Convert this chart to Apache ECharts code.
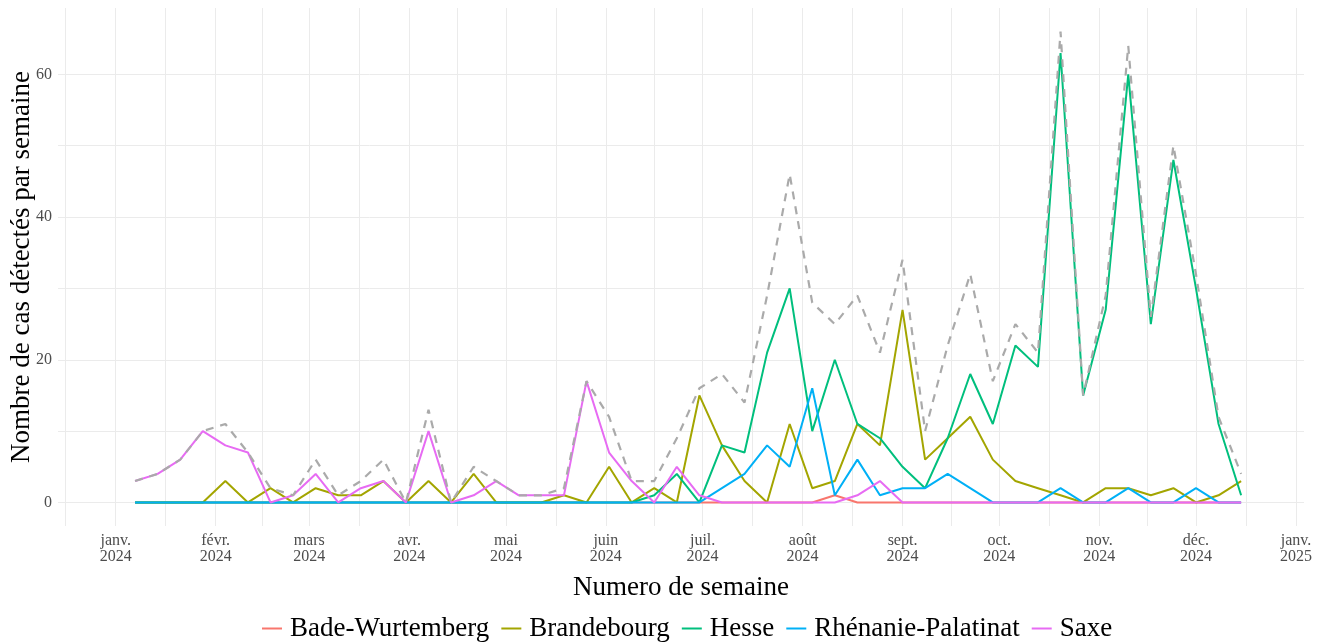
<!DOCTYPE html>
<html><head><meta charset="utf-8">
<script src="https://cdn.jsdelivr.net/npm/echarts@6/dist/echarts.min.js"></script>
<style>html,body{margin:0;padding:0;background:#fff}#c{width:1322px;height:643px}</style>
</head><body><div id="c"></div>
<script>
// Weekly dates (x values)
const weeks = ['2024-01-07','2024-01-14','2024-01-21','2024-01-28','2024-02-04','2024-02-11','2024-02-18','2024-02-25',
'2024-03-03','2024-03-10','2024-03-17','2024-03-24','2024-03-31','2024-04-07','2024-04-14','2024-04-21','2024-04-28',
'2024-05-05','2024-05-12','2024-05-19','2024-05-26','2024-06-02','2024-06-09','2024-06-16','2024-06-23','2024-06-30',
'2024-07-07','2024-07-14','2024-07-21','2024-07-28','2024-08-04','2024-08-11','2024-08-18','2024-08-25',
'2024-09-01','2024-09-08','2024-09-15','2024-09-22','2024-09-29','2024-10-06','2024-10-13','2024-10-20','2024-10-27',
'2024-11-03','2024-11-10','2024-11-17','2024-11-24','2024-12-01','2024-12-08','2024-12-15'];

const badeWurtemberg = [0,0,0,0,0,0,0,0,0,0, 0,0,0,0,0,0,0,0,0,0, 0,0,0,0,0,0,0,0,0,0, 0,1,0,0,0,0,0,0,0,0, 0,0,0,0,0,0,0,0,0,0];
const brandebourg   = [0,0,0,0,3,0,2,0,2,1, 1,3,0,3,0,4,0,0,0,1, 0,5,0,2,0,15,8,3,0,11, 2,3,11,8,27,6,9,12,6,3, 2,1,0,2,2,1,2,0,1,3];
const hesse         = [0,0,0,0,0,0,0,0,0,0, 0,0,0,0,0,0,0,0,0,0, 0,0,0,1,4,0,8,7,21,30, 10,20,11,9,5,2,9,18,11,22, 19,63,15,27,60,25,48,30,11,1];
const rhenanie      = [0,0,0,0,0,0,0,0,0,0, 0,0,0,0,0,0,0,0,0,0, 0,0,0,0,0,0,2,4,8,5, 16,1,6,1,2,2,4,2,0,0, 0,2,0,0,2,0,0,2,0,0];
const saxe          = [3,4,6,10,8,7,0,1,4,0, 2,3,0,10,0,1,3,1,1,1, 17,7,3,0,5,1,0,0,0,0, 0,0,1,3,0,0,0,0,0,0, 0,0,0,0,0,0,0,0,0,0];
const total         = [3,4,6,10,11,7,2,1,6,1, 3,6,0,13,0,5,3,1,1,2, 17,12,3,3,9,16,18,14,29,46, 28,25,29,21,34,10,22,32,17,25, 21,66,15,29,64,26,50,32,12,4];

const seriesNames = ['Bade-Wurtemberg','Brandebourg','Hesse','Rhénanie-Palatinat','Saxe'];
const seriesColors = ['#F8766D','#A3A500','#00BF7D','#00B0F6','#E76BF3'];

const yTickLabels = [0,20,40,60];
const yGridValues = [0,10,20,30,40,50,60];
const monthStarts = ['2023-12-01','2024-01-01','2024-02-01','2024-03-01','2024-04-01','2024-05-01','2024-06-01',
  '2024-07-01','2024-08-01','2024-09-01','2024-10-01','2024-11-01','2024-12-01','2025-01-01'];
const monthLabels = ['déc.','janv.','févr.','mars','avr.','mai','juin','juil.','août','sept.','oct.','nov.','déc.','janv.'];

const DAY = 86400000;
const t = s => Date.parse(s);
const xMin = t('2024-01-01') - 17.9 * DAY;
const xMax = t('2024-01-01') + 368.5 * DAY;

const majorTicks = monthStarts.map(t).filter(v => v >= xMin && v <= xMax);
const gridTicks = [];
const ms = monthStarts.map(t);
for (let i = 0; i < ms.length; i++) {
  if (ms[i] >= xMin && ms[i] <= xMax) gridTicks.push(ms[i]);
  if (i < ms.length - 1) { const m = (ms[i] + ms[i+1]) / 2; if (m >= xMin && m <= xMax) gridTicks.push(m); }
}
const labelMap = {};
ms.forEach((v, i) => { labelMap[v] = monthLabels[i] + '\n' + new Date(v).getUTCFullYear(); });

const toPts = arr => arr.map((v, i) => [t(weeks[i]), v]);
const font = 'Liberation Serif';

const series = [badeWurtemberg, brandebourg, hesse, rhenanie, saxe].map((arr, i) => ({
  name: seriesNames[i], type: 'line', data: toPts(arr), symbol: 'none', showSymbol: false,
  lineStyle: { color: seriesColors[i], width: 2 }, itemStyle: { color: seriesColors[i] },
  animation: false, z: 2 + i
}));
series.push({
  name: 'Total', type: 'line', data: toPts(total), symbol: 'none', showSymbol: false,
  lineStyle: { color: '#aaaaaa', width: 2.2, type: [8, 7] }, itemStyle: { color: '#aaaaaa' },
  animation: false, z: 10
});

const chart = echarts.init(document.getElementById('c'), null, { renderer: 'canvas' });
chart.setOption({
  backgroundColor: '#ffffff',
  animation: false,
  grid: { left: 58, right: 18, top: 8, bottom: 117, containLabel: false, outerBoundsMode: 'none' },
  legend: {
    data: seriesNames, top: 610, left: 257, itemWidth: 20, itemHeight: 14, itemGap: 12,
    icon: 'path://M0,6 L20,6 L20,8 L0,8 Z',
    textStyle: { fontFamily: font, fontSize: 27, color: '#000', padding: [0, 0, 0, 3] }
  },
  xAxis: {
    type: 'value', min: xMin, max: xMax,
    name: 'Numero de semaine', nameLocation: 'middle', nameGap: 48, nameMoveOverlap: false,
    nameTextStyle: { fontFamily: font, fontSize: 27, color: '#000' },
    axisLine: { show: false },
    axisTick: { show: false, customValues: gridTicks },
    axisLabel: { customValues: majorTicks, formatter: v => labelMap[v] || '', fontFamily: font, fontSize: 16,
      color: '#4d4d4d', lineHeight: 16, margin: 7 },
    splitLine: { show: true, lineStyle: { color: '#ebebeb', width: 1 } }
  },
  yAxis: {
    type: 'value', min: -3.3, max: 69.3,
    name: 'Nombre de cas détectés par semaine', nameLocation: 'middle', nameGap: 23, nameMoveOverlap: false,
    nameTextStyle: { fontFamily: font, fontSize: 27, color: '#000' },
    axisLine: { show: false },
    axisTick: { show: false, customValues: yGridValues },
    axisLabel: { customValues: yTickLabels, fontFamily: font, fontSize: 16, color: '#4d4d4d', margin: 6 },
    splitLine: { show: true, lineStyle: { color: '#ebebeb', width: 1 } }
  },
  series: series
});
</script></body></html>
